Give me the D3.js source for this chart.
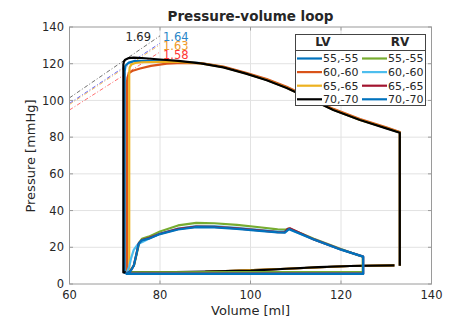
<!DOCTYPE html>
<html lang="en">
  <head>
    <meta charset="utf-8">
    <title>Pressure-volume loop</title>
    <script src="https://cdn.jsdelivr.net/npm/d3@7"></script>
    <style>
      body { margin: 0; background: #fff; }
      text { font-family: "DejaVu Sans", sans-serif; fill: #262626; }
    </style>
  </head>
  <body>
    <script>

      // LV loops [volume ml, pressure mmHg]
      var lv55 = [[133,10],[133,82.6],[130,85],[124.2,89.5],[118.3,95],[113,101.2],[108,107],[103.6,111.2],[99,114.8],[94,118.2],[89,120.4],[84,121.2],[80,121.4],[76,121.6],[74.3,121.4],[73.1,120.6],[72.4,119],[72.2,116],[72.2,6],[90,6.6],[108,8.3],[122,9.8],[131.8,10.2]];
      var lv60 = [[133,10],[133,82.8],[130,85.4],[124.2,89.9],[118.3,95.4],[113,101.6],[108,107.4],[103.6,111.6],[99,115.1],[94,118.4],[89,120.3],[85,120.4],[81.5,120],[78,118.8],[75.6,117.4],[74,116.2],[73.1,114.8],[72.8,112.5],[72.7,110],[72.7,6],[90,6.6],[108,8.3],[122,9.8],[131.8,10.2]];
      var lv65 = [[133,10],[133,82.5],[130,85],[124.2,89.4],[118.3,94.9],[113,101.1],[108,106.9],[103.6,111.1],[99,114.7],[94,118.1],[89,120.2],[84,121],[80,121],[76,120.8],[74.5,120.4],[73.7,119.6],[73.3,118],[73.2,115],[73.2,6],[90,6.6],[108,8.3],[122,9.8],[131.8,10.2]];
      var lv70 = [[133,10],[133,82.4],[130,84.8],[124.2,89.3],[118.3,94.8],[113,101],[108,106.8],[103.6,111],[99,114.6],[94,118],[89,120.2],[84,121.5],[80,122.3],[76,123.1],[74.2,123.3],[73,123],[72.3,122.2],[72,121],[71.9,119.5],[71.9,6.3],[80,6.4],[90,6.7],[100,7.3],[108,8.3],[115,9.2],[122,9.8],[131.8,10.2]];

      // RV loops
      var rv55 = [[72.8,6.4],[124.8,6.6],[124.8,14.8],[120,19],[114,24.6],[108.6,30.2],[107.8,29.6],[106,29.8],[102,30.9],[97,32.2],[92,33.1],[88,33.3],[84,31.9],[80,28.6],[77.5,25.8],[76,24.6],[75.4,22.5],[74.9,17],[74.3,10.5],[73.5,7.2],[72.8,6.4]];
      var rv60 = [[72.6,5.6],[124.9,5.6],[124.9,14.9],[120,18.8],[114,24.3],[108.6,30],[107.7,28.6],[106,28.6],[102,29.5],[97,30.6],[92,31.5],[88,31.6],[84,30.2],[80,27.5],[77.5,24.6],[76,22.8],[75,21.3],[74.2,18.6],[73.6,14],[73.2,9.5],[72.6,5.6]];
      var rv65 = [[72.5,5.6],[124.9,5.6],[124.9,14.9],[120,18.8],[114,24.3],[108.8,30.3],[108.2,30],[107.5,28.2],[106,28.3],[102,29.2],[97,30.3],[92,31.1],[88,31.3],[84,30],[80,27.4],[77.5,25],[76,24],[75.3,22.2],[74.8,16.5],[74.2,10],[73.4,6.8],[72.5,5.6]];
      var rv70 = [[72.4,5.5],[124.9,5.5],[124.9,14.9],[120,18.7],[114,24.2],[108.5,29.9],[107.6,28],[106,28.1],[102,28.9],[97,30],[92,30.8],[88,31],[84,29.7],[80,27.2],[77.5,24.7],[76,23.8],[75.3,22],[74.8,16.3],[74.2,10],[73.4,6.7],[72.4,5.5]];

      // end-systolic elastance lines
      var esEnds = [60, 80];
      var esValues = [1.69, 1.64, 1.63, 1.58];
      var esLabels = ["1.69", "1.64", "1.63", "1.58"];

      var legendNames = ["55,-55", "60,-60", "65,-65", "70,-70"];
      var xTicks = [60, 80, 100, 120, 140];
      var yTicks = [0, 20, 40, 60, 80, 100, 120, 140];

      var lvColors = ["#0072BD", "#D95319", "#EDB120", "#000000"];
      var rvColors = ["#77AC30", "#4DBEEE", "#A2142F", "#0072BD"];
      var esLineColors = ["#333333", "#2020ee", "#f0a020", "#ff3030"];
      var esTextColors = ["#262626", "#2a86c8", "#ef9a2a", "#ff3535"];

      var W = 463, H = 324;
      var L = 69.5, R = 431.5, T = 27, B = 284;

      var svg = d3.select("body").append("svg")
                  .attr("width", W)
                  .attr("height", H);

      var x = d3.scaleLinear().domain([60, 140]).range([L, R]);
      var y = d3.scaleLinear().domain([0, 140]).range([B, T]);

      svg.append("rect").attr("x", L).attr("y", T)
         .attr("width", R - L).attr("height", B - T).attr("fill", "#fff");

      // grid
      svg.append("g").selectAll("line").data(xTicks.slice(1, -1)).enter().append("line")
         .attr("x1", function(d) { return x(d); }).attr("x2", function(d) { return x(d); })
         .attr("y1", T).attr("y2", B)
         .attr("stroke", "#e2e2e2").attr("stroke-width", 1);
      svg.append("g").selectAll("line").data(yTicks.slice(1, -1)).enter().append("line")
         .attr("y1", function(d) { return y(d); }).attr("y2", function(d) { return y(d); })
         .attr("x1", L).attr("x2", R)
         .attr("stroke", "#e2e2e2").attr("stroke-width", 1);

      svg.append("clipPath").attr("id", "clip").append("rect")
         .attr("x", L).attr("y", T).attr("width", R - L).attr("height", B - T);

      var plot = svg.append("g").attr("clip-path", "url(#clip)");

      var line = d3.line()
         .x(function(d) { return x(d[0]); })
         .y(function(d) { return y(d[1]); });

      // elastance dash-dot lines
      esValues.forEach(function(e, i) {
        plot.append("path")
           .datum(esEnds.map(function(v) { return [v, e * v]; }))
           .attr("d", line)
           .attr("fill", "none")
           .attr("stroke", esLineColors[i])
           .attr("stroke-width", 0.7)
           .attr("stroke-dasharray", "4,2,1,2");
      });

      [lv55, lv60, lv65, lv70].forEach(function(d, i) {
        plot.append("path").datum(d).attr("d", line)
           .attr("fill", "none").attr("stroke", lvColors[i])
           .attr("stroke-width", 2.2).attr("stroke-linejoin", "round");
      });
      [rv55, rv60, rv65, rv70].forEach(function(d, i) {
        plot.append("path").datum(d).attr("d", line)
           .attr("fill", "none").attr("stroke", rvColors[i])
           .attr("stroke-width", 2.2).attr("stroke-linejoin", "round");
      });

      // elastance labels
      svg.append("text").attr("x", 151).attr("y", 41)
         .attr("text-anchor", "end").style("font-size", "11.5px")
         .style("fill", esTextColors[0]).text(esLabels[0]);
      [1, 2, 3].forEach(function(i) {
        svg.append("text").attr("x", 163).attr("y", 41 + (i - 1) * 9.2)
           .style("font-size", "11.5px").style("fill", esTextColors[i]).text(esLabels[i]);
      });

      // axes box and ticks
      var axisColor = "#9a9a9a";
      svg.append("rect").attr("x", L).attr("y", T)
         .attr("width", R - L).attr("height", B - T)
         .attr("fill", "none").attr("stroke", axisColor).attr("stroke-width", 1);

      xTicks.forEach(function(t) {
        svg.append("line").attr("x1", x(t)).attr("x2", x(t)).attr("y1", B).attr("y2", B - 3.5)
           .attr("stroke", axisColor);
        svg.append("line").attr("x1", x(t)).attr("x2", x(t)).attr("y1", T).attr("y2", T + 3.5)
           .attr("stroke", axisColor);
        svg.append("text").attr("x", x(t)).attr("y", 299)
           .attr("text-anchor", "middle").style("font-size", "11.5px").text(t);
      });
      yTicks.forEach(function(t) {
        svg.append("line").attr("x1", L).attr("x2", L + 3.5).attr("y1", y(t)).attr("y2", y(t))
           .attr("stroke", axisColor);
        svg.append("line").attr("x1", R).attr("x2", R - 3.5).attr("y1", y(t)).attr("y2", y(t))
           .attr("stroke", axisColor);
        svg.append("text").attr("x", 64).attr("y", y(t)).attr("dy", "0.36em")
           .attr("text-anchor", "end").style("font-size", "11.5px").text(t);
      });

      svg.append("text").attr("x", (L + R) / 2).attr("y", 315)
         .attr("text-anchor", "middle").style("font-size", "13px").text("Volume [ml]");
      svg.append("text").attr("transform", "translate(35,156) rotate(-90)")
         .attr("text-anchor", "middle").style("font-size", "13px").text("Pressure [mmHg]");
      svg.append("text").attr("x", (L + R) / 2).attr("y", 21)
         .attr("text-anchor", "middle").style("font-size", "13.5px").style("font-weight", "bold")
         .text("Pressure-volume loop");

      // legend
      var lg = svg.append("g");
      lg.append("rect").attr("x", 295.5).attr("y", 34.5).attr("width", 130).attr("height", 71)
         .attr("fill", "#fff").attr("stroke", "#444").attr("stroke-width", 1);
      lg.append("line").attr("x1", 295.5).attr("x2", 425.5).attr("y1", 50.5).attr("y2", 50.5)
         .attr("stroke", "#444");
      lg.append("text").attr("x", 323).attr("y", 46).attr("text-anchor", "middle")
         .style("font-size", "12px").style("font-weight", "bold").text("LV");
      lg.append("text").attr("x", 400).attr("y", 46).attr("text-anchor", "middle")
         .style("font-size", "12px").style("font-weight", "bold").text("RV");

      legendNames.forEach(function(n, i) {
        var yy = 58.5 + i * 13.6;
        lg.append("line").attr("x1", 297).attr("x2", 322).attr("y1", yy).attr("y2", yy)
           .attr("stroke", lvColors[i]).attr("stroke-width", 2.2);
        lg.append("text").attr("x", 323).attr("y", yy).attr("dy", "0.36em")
           .style("font-size", "11px").text(n);
        lg.append("line").attr("x1", 362).attr("x2", 387).attr("y1", yy).attr("y2", yy)
           .attr("stroke", rvColors[i]).attr("stroke-width", 2.2);
        lg.append("text").attr("x", 388).attr("y", yy).attr("dy", "0.36em")
           .style("font-size", "11px").text(n);
      });

    </script>
  </body>
</html>
